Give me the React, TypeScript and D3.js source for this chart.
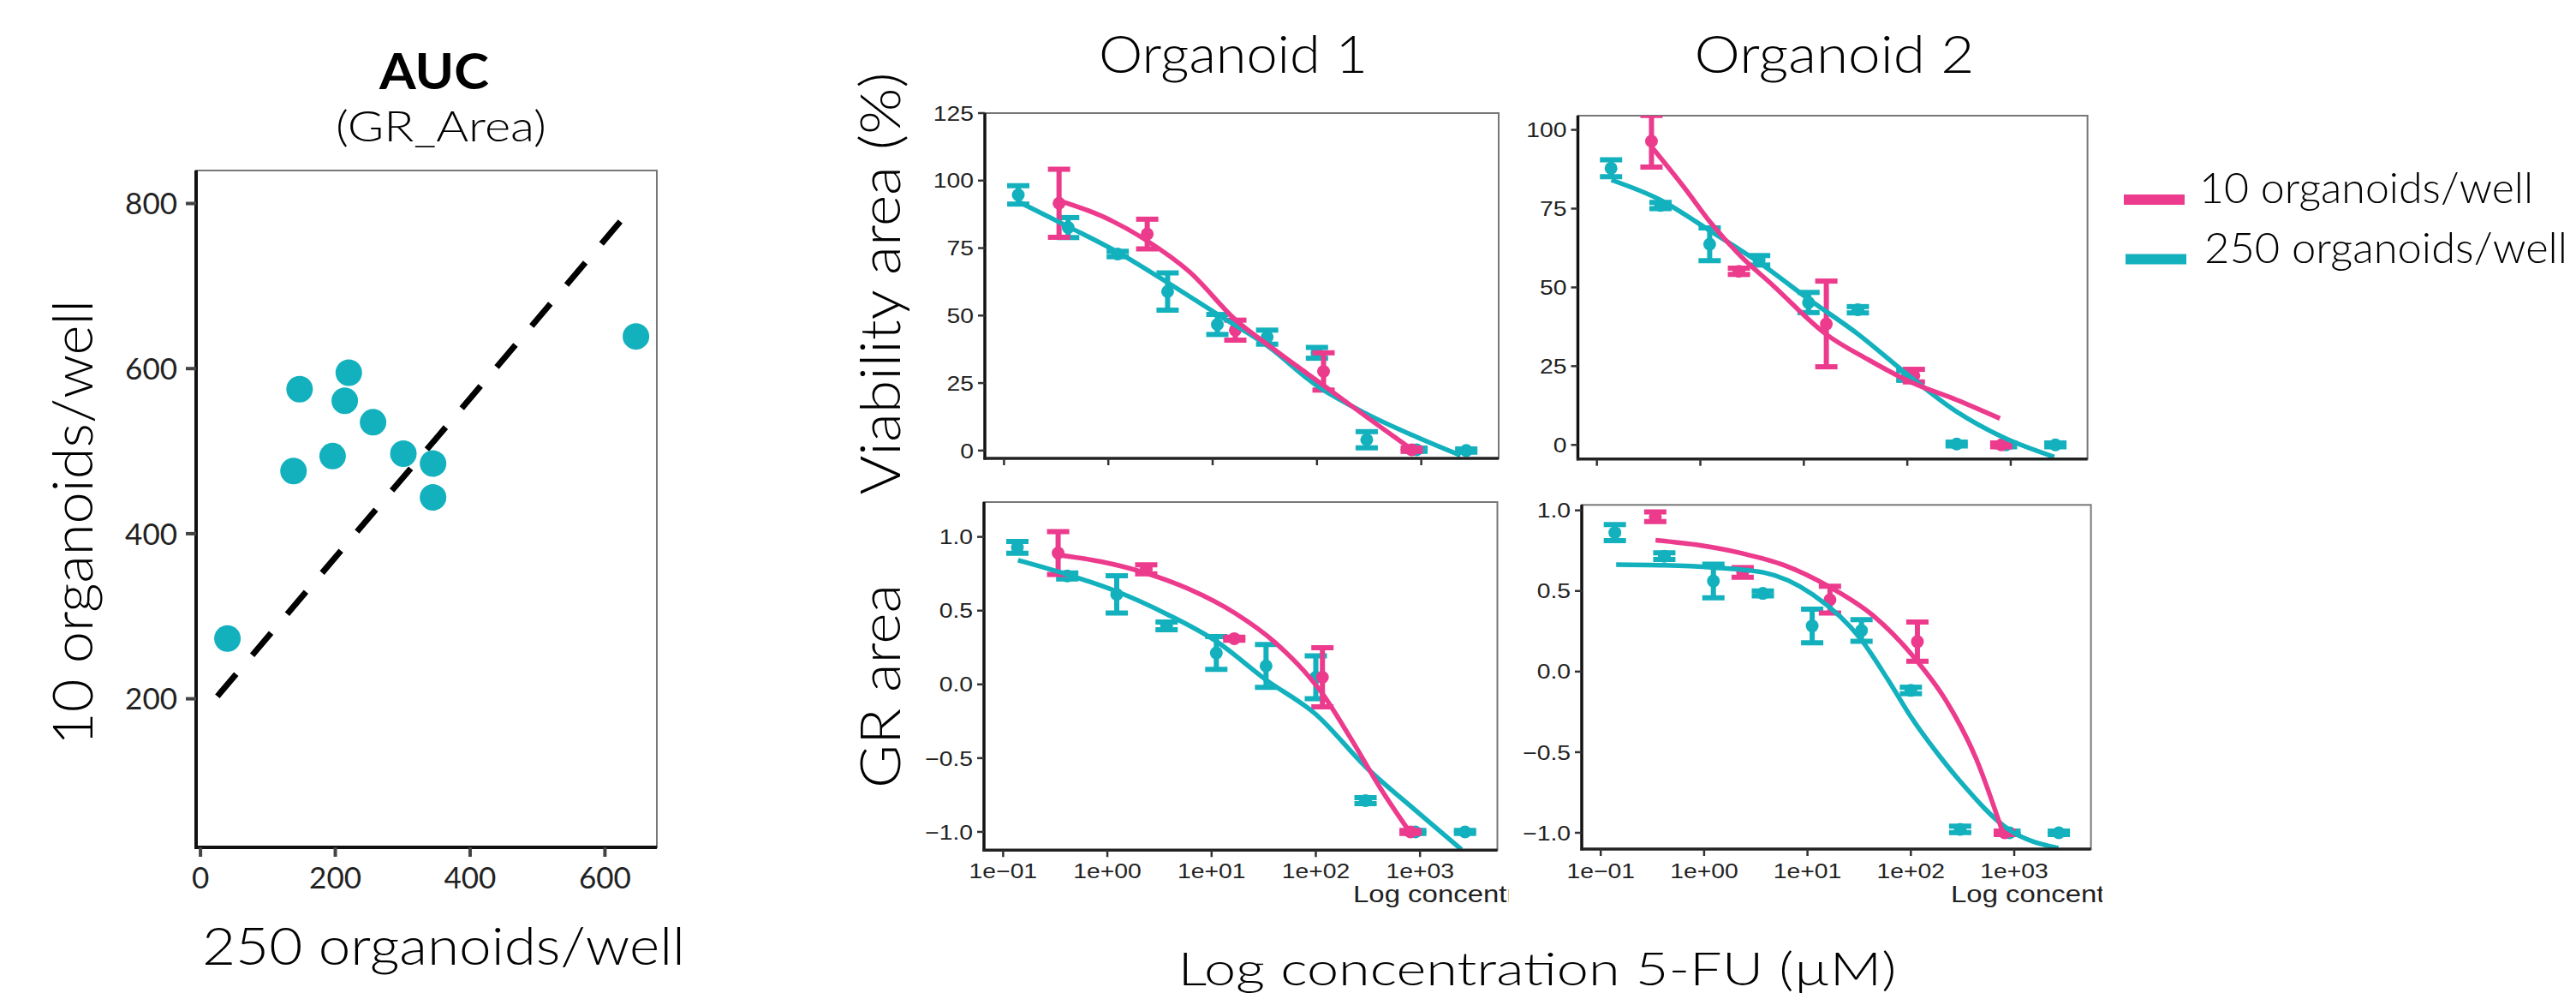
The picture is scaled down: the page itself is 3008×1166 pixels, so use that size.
import * as d3 from 'd3';
import { useRef, useEffect } from 'react';

const TEAL = '#13b1be';
const PINK = '#ec3b8d';
const GEO = 'Lato, "Open Sans", sans-serif';
const ARIAL = '"Liberation Sans", Arial, sans-serif';

// ---- AUC scatter (GR_Area) ----
const aucX = [40, 138, 147, 196, 220, 214, 256, 301, 345, 345, 646];
const aucY = [273, 476, 575, 494, 595, 561, 535, 497, 485, 444, 639];
const aucXTicks = [0, 200, 400, 600];
const aucYTicks = [200, 400, 600, 800];
const refLineX = [25, 635];
const refLineY = [203, 790];

// ---- dose response: concentrations in uM ----
const concTeal = [0.137, 0.412, 1.23, 3.7, 11.1, 33.3, 100, 300, 900, 2700];
const concPink = [0.337, 2.36, 16.5, 115.7, 810];
const logTicks = [0.1, 1, 10, 100, 1000];
const logTickLabels = ['1e\u221201', '1e+00', '1e+01', '1e+02', '1e+03'];

// Organoid 1 - viability area (%)
const via1Teal = [94.7, 82.6, 72.8, 58.9, 46.7, 42.0, 36.2, 4.0, 0.3, 0.0];
const via1TealErr = [3.4, 3.7, 1.0, 6.9, 3.7, 2.6, 2.0, 3.0, 0.6, 0.6];
const via1Pink = [91.6, 80.2, 44.6, 29.3, 0.3];
const via1PinkErr = [12.6, 5.5, 3.7, 6.9, 0.6];
const via1TealFitX = [0.139, 0.43, 1.28, 3.78, 11.2, 33.4, 100, 302, 891, 2380];
const via1TealFitY = [92.1, 82.6, 73.1, 62, 50.4, 38.8, 24, 13.5, 5.1, -1.8];
const via1PinkFitX = [0.337, 0.869, 2.33, 6.0, 16.7, 41.3, 117, 313, 807];
const via1PinkFitY = [92.6, 86.8, 77.8, 66.2, 48.3, 36.7, 24, 11.9, 0.5];

// Organoid 2 - viability area (%)
const via2Teal = [87.8, 76.0, 63.7, 58.6, 45.2, 42.9, 22.0, 0.3, 0.0, 0.0];
const via2TealErr = [2.7, 1.0, 5.2, 1.5, 3.2, 1.0, 1.5, 0.6, 0.6, 0.6];
const via2Pink = [96.4, 55.1, 38.4, 22.0, 0.0];
const via2PinkErr = [8.2, 1.0, 13.6, 2.0, 0.6];
const via2TealFitX = [0.138, 0.408, 1.26, 3.74, 11.3, 33.3, 99, 295, 832, 2630];
const via2TealFitY = [84.1, 77.8, 67.8, 57.8, 46.1, 35.2, 22.5, 10.7, 2.5, -3.8];
const via2PinkFitX = [0.338, 0.71, 1.26, 2.34, 5.04, 16.3, 42.3, 112, 300, 785];
const via2PinkFitY = [94.6, 81.4, 70.5, 60.6, 50.6, 35.2, 27, 19.7, 14.3, 8.4];

// Organoid 1 - GR area
const gr1Teal = [0.929, 0.735, 0.61, 0.397, 0.213, 0.125, 0.048, -0.788, -1.0, -1.0];
const gr1TealErr = [0.04, 0.02, 0.126, 0.026, 0.111, 0.145, 0.145, 0.02, 0.01, 0.01];
const gr1Pink = [0.89, 0.78, 0.31, 0.048, -1.0];
const gr1PinkErr = [0.145, 0.03, 0.01, 0.2, 0.01];
const gr1TealFitX = [0.139, 0.414, 1.24, 3.78, 11.2, 33.4, 100, 302, 891, 2500];
const gr1TealFitY = [0.842, 0.745, 0.629, 0.474, 0.29, 0.03, -0.203, -0.56, -0.85, -1.12];
const gr1PinkFitX = [0.337, 0.869, 2.33, 6.0, 16.7, 41.3, 112, 213, 419, 807];
const gr1PinkFitY = [0.877, 0.832, 0.755, 0.648, 0.484, 0.28, -0.049, -0.358, -0.707, -1.007];

// Organoid 2 - GR area
const gr2Teal = [0.862, 0.716, 0.562, 0.485, 0.283, 0.255, -0.117, -0.979, -1.0, -1.0];
const gr2TealErr = [0.05, 0.02, 0.104, 0.015, 0.104, 0.067, 0.02, 0.02, 0.01, 0.01];
const gr2Pink = [0.96, 0.615, 0.446, 0.186, -1.0];
const gr2PinkErr = [0.03, 0.03, 0.083, 0.122, 0.01];
const gr2TealFitX = [0.141, 0.415, 1.24, 3.75, 11.1, 33.1, 60, 100, 182, 299, 881, 2670];
const gr2TealFitY = [0.663, 0.659, 0.645, 0.615, 0.48, 0.198, -0.05, -0.28, -0.51, -0.68, -0.979, -1.095];
const gr2PinkFitX = [0.339, 0.918, 2.35, 6.0, 16.3, 42.8, 112, 216, 428, 776];
const gr2PinkFitY = [0.815, 0.783, 0.733, 0.659, 0.526, 0.349, 0.074, -0.174, -0.54, -1.0];

const legendLabels = ['10 organoids/well', '250 organoids/well'];

export default function App() {
    const ref = useRef(null);

    useEffect(() => {
        const svg = d3.select(ref.current);
        svg.selectAll('*').remove();

        // ---------- AUC scatter ----------
        const sx = d3.scaleLinear().domain([-6.5, 677]).range([229, 767]);
        const sy = d3.scaleLinear().domain([20, 840]).range([989, 199]);

        svg.append('rect')
            .attr('x', 229).attr('y', 199).attr('width', 538).attr('height', 790)
            .attr('fill', 'white').attr('stroke', '#777').attr('stroke-width', 2);

        svg.append('line')
            .attr('x1', sx(refLineX[0])).attr('y1', sy(refLineY[0]))
            .attr('x2', sx(refLineX[1])).attr('y2', sy(refLineY[1]))
            .attr('stroke', '#000').attr('stroke-width', 7)
            .attr('stroke-dasharray', '34 29');

        svg.selectAll('.auc-dot')
            .data(aucX.map((x, i) => ({ x, y: aucY[i] })))
            .enter().append('circle')
            .attr('cx', d => sx(d.x)).attr('cy', d => sy(d.y))
            .attr('r', 15.5).attr('fill', TEAL);

        // axis lines
        svg.append('line').attr('x1', 229).attr('x2', 229).attr('y1', 199).attr('y2', 991)
            .attr('stroke', '#111').attr('stroke-width', 4);
        svg.append('line').attr('x1', 227).attr('x2', 767).attr('y1', 989).attr('y2', 989)
            .attr('stroke', '#111').attr('stroke-width', 4);

        aucYTicks.forEach(t => {
            svg.append('line').attr('x1', 217).attr('x2', 229).attr('y1', sy(t)).attr('y2', sy(t))
                .attr('stroke', '#444').attr('stroke-width', 4);
            svg.append('text').attr('x', 207).attr('y', sy(t)).attr('dy', '0.36em')
                .attr('text-anchor', 'end').style('font-family', GEO).style('font-size', '35px')
                .attr('fill', '#222').text(t);
        });
        aucXTicks.forEach(t => {
            svg.append('line').attr('x1', sx(t)).attr('x2', sx(t)).attr('y1', 989).attr('y2', 1000)
                .attr('stroke', '#444').attr('stroke-width', 4);
            svg.append('text').attr('x', sx(t)).attr('y', 1037)
                .attr('text-anchor', 'middle').style('font-family', GEO).style('font-size', '35px')
                .attr('fill', '#222').text(t);
        });

        svg.append('text').attr('x', 507).attr('y', 104).attr('text-anchor', 'middle')
            .style('font-family', GEO).style('font-size', '57px').style('font-weight', 700)
            .attr('textLength', 128).attr('lengthAdjust', 'spacingAndGlyphs').text('AUC');
        svg.append('text').attr('x', 515).attr('y', 165).attr('text-anchor', 'middle')
            .style('font-family', GEO).style('font-size', '50px').style('font-weight', 300)
            .attr('textLength', 246).attr('lengthAdjust', 'spacingAndGlyphs').text('(GR_Area)');
        svg.append('text').attr('transform', 'translate(108,610) rotate(-90)')
            .attr('text-anchor', 'middle').style('font-family', GEO).style('font-size', '66px').style('font-weight', 300)
            .attr('textLength', 520).attr('lengthAdjust', 'spacingAndGlyphs').text('10 organoids/well');
        svg.append('text').attr('x', 518).attr('y', 1126).attr('text-anchor', 'middle')
            .style('font-family', GEO).style('font-size', '62px').style('font-weight', 300)
            .attr('textLength', 564).attr('lengthAdjust', 'spacingAndGlyphs').text('250 organoids/well');

        // ---------- dose response panels ----------
        const panels = [
            {
                box: [1150, 1750, 132, 535], yDomain: [-2.9, 125], yTicks: [0, 25, 50, 75, 100, 125],
                fmt: d3.format('d'), xLabels: false,
                teal: via1Teal, tealErr: via1TealErr, pink: via1Pink, pinkErr: via1PinkErr,
                tfx: via1TealFitX, tfy: via1TealFitY, pfx: via1PinkFitX, pfy: via1PinkFitY
            },
            {
                box: [1842.5, 2437.6, 135, 535.7], yDomain: [-4.46, 104.5], yTicks: [0, 25, 50, 75, 100],
                fmt: d3.format('d'), xLabels: false,
                teal: via2Teal, tealErr: via2TealErr, pink: via2Pink, pinkErr: via2PinkErr,
                tfx: via2TealFitX, tfy: via2TealFitY, pfx: via2PinkFitX, pfy: via2PinkFitY
            },
            {
                box: [1149, 1748.5, 586, 992.3], yDomain: [-1.124, 1.236], yTicks: [-1, -0.5, 0, 0.5, 1],
                fmt: d3.format('.1f'), xLabels: true, clipRight: 1762,
                teal: gr1Teal, tealErr: gr1TealErr, pink: gr1Pink, pinkErr: gr1PinkErr,
                tfx: gr1TealFitX, tfy: gr1TealFitY, pfx: gr1PinkFitX, pfy: gr1PinkFitY
            },
            {
                box: [1847, 2441.6, 589.3, 991], yDomain: [-1.101, 1.034], yTicks: [-1, -0.5, 0, 0.5, 1],
                fmt: d3.format('.1f'), xLabels: true, clipRight: 2455,
                teal: gr2Teal, tealErr: gr2TealErr, pink: gr2Pink, pinkErr: gr2PinkErr,
                tfx: gr2TealFitX, tfy: gr2TealFitY, pfx: gr2PinkFitX, pfy: gr2PinkFitY
            }
        ];

        const defs = svg.append('defs');

        panels.forEach((p, pi) => {
            const [x0, x1, y0, y1] = p.box;
            const x = d3.scaleLog().domain([0.0655, 5520]).range([x0, x1]);
            const y = d3.scaleLinear().domain(p.yDomain).range([y1, y0]);
            const g = svg.append('g');

            g.append('rect').attr('x', x0).attr('y', y0).attr('width', x1 - x0).attr('height', y1 - y0)
                .attr('fill', 'white').attr('stroke', '#777').attr('stroke-width', 2);

            const clipId = `panel-clip-${pi}`;
            defs.append('clipPath').attr('id', clipId).append('rect')
                .attr('x', x0).attr('y', y0).attr('width', x1 - x0).attr('height', y1 - y0);
            const plot = g.append('g').attr('clip-path', `url(#${clipId})`);

            const drawSeries = (conc, vals, errs, color) => {
                const pts = conc.map((c, i) => ({ c, v: vals[i], e: errs[i] }));
                pts.forEach(d => {
                    const cx = x(d.c);
                    const top = y(d.v + d.e);
                    const bot = y(d.v - d.e);
                    plot.append('line').attr('x1', cx).attr('x2', cx).attr('y1', top).attr('y2', bot)
                        .attr('stroke', color).attr('stroke-width', 6);
                    [top, bot].forEach(yy => {
                        plot.append('line').attr('x1', cx - 13).attr('x2', cx + 13).attr('y1', yy).attr('y2', yy)
                            .attr('stroke', color).attr('stroke-width', 6);
                    });
                    plot.append('circle').attr('cx', cx).attr('cy', y(d.v)).attr('r', 7.5).attr('fill', color);
                });
            };
            drawSeries(concTeal, p.teal, p.tealErr, TEAL);
            drawSeries(concPink, p.pink, p.pinkErr, PINK);

            const line = d3.line().x(d => x(d[0])).y(d => y(d[1])).curve(d3.curveMonotoneX);
            plot.append('path').attr('d', line(p.tfx.map((c, i) => [c, p.tfy[i]])))
                .attr('fill', 'none').attr('stroke', TEAL).attr('stroke-width', 5.5);
            plot.append('path').attr('d', line(p.pfx.map((c, i) => [c, p.pfy[i]])))
                .attr('fill', 'none').attr('stroke', PINK).attr('stroke-width', 5.5);

            // axis lines (left / bottom)
            g.append('line').attr('x1', x0).attr('x2', x0).attr('y1', y0).attr('y2', y1 + 1.5)
                .attr('stroke', '#111').attr('stroke-width', 3.5);
            g.append('line').attr('x1', x0 - 1.5).attr('x2', x1).attr('y1', y1).attr('y2', y1)
                .attr('stroke', '#222').attr('stroke-width', 3.5);

            p.yTicks.forEach(t => {
                g.append('line').attr('x1', x0 - 8).attr('x2', x0).attr('y1', y(t)).attr('y2', y(t))
                    .attr('stroke', '#333').attr('stroke-width', 2.5);
                g.append('text').attr('transform', `translate(${x0 - 13},${y(t)}) scale(1.18,1)`)
                    .attr('dy', '0.36em').attr('text-anchor', 'end')
                    .style('font-family', ARIAL).style('font-size', '24px').attr('fill', '#222')
                    .text(p.fmt(t));
            });
            logTicks.forEach((t, i) => {
                g.append('line').attr('x1', x(t)).attr('x2', x(t)).attr('y1', y1).attr('y2', y1 + 8)
                    .attr('stroke', '#333').attr('stroke-width', 2.5);
                if (p.xLabels) {
                    g.append('text').attr('transform', `translate(${x(t)},1025) scale(1.18,1)`)
                        .attr('text-anchor', 'middle')
                        .style('font-family', ARIAL).style('font-size', '24px').attr('fill', '#222')
                        .text(logTickLabels[i]);
                }
            });

            if (p.xLabels) {
                const labId = `lab-clip-${pi}`;
                defs.append('clipPath').attr('id', labId).append('rect')
                    .attr('x', x1 - 200).attr('y', 1020).attr('width', p.clipRight - (x1 - 200)).attr('height', 60);
                g.append('g').attr('clip-path', `url(#${labId})`)
                    .append('text').attr('transform', `translate(${x0 + 431},1053) scale(1.22,1)`)
                    .style('font-family', ARIAL).style('font-size', '27px').attr('fill', '#222')
                    .text('Log concentration (\u00b5M)');
            }
        });

        // column titles and shared labels
        svg.append('text').attr('x', 1440).attr('y', 85).attr('text-anchor', 'middle')
            .style('font-family', GEO).style('font-size', '62px').style('font-weight', 300)
            .attr('textLength', 314).attr('lengthAdjust', 'spacingAndGlyphs').text('Organoid 1');
        svg.append('text').attr('x', 2142).attr('y', 85).attr('text-anchor', 'middle')
            .style('font-family', GEO).style('font-size', '62px').style('font-weight', 300)
            .attr('textLength', 327).attr('lengthAdjust', 'spacingAndGlyphs').text('Organoid 2');
        svg.append('text').attr('transform', 'translate(1051,331) rotate(-90)')
            .attr('text-anchor', 'middle').style('font-family', GEO).style('font-size', '65px').style('font-weight', 300)
            .attr('textLength', 493).attr('lengthAdjust', 'spacingAndGlyphs').text('Viability area (%)');
        svg.append('text').attr('transform', 'translate(1051,801) rotate(-90)')
            .attr('text-anchor', 'middle').style('font-family', GEO).style('font-size', '65px').style('font-weight', 300)
            .attr('textLength', 238).attr('lengthAdjust', 'spacingAndGlyphs').text('GR area');
        svg.append('text').attr('x', 1795).attr('y', 1150).attr('text-anchor', 'middle')
            .style('font-family', GEO).style('font-size', '53px').style('font-weight', 300)
            .attr('textLength', 839).attr('lengthAdjust', 'spacingAndGlyphs').text('Log concentration 5-FU (\u00b5M)');

        // legend
        const legend = [
            { color: PINK, label: legendLabels[0], x: 2480, y: 233, tx: 2568, ty: 237, len: 390 },
            { color: TEAL, label: legendLabels[1], x: 2482, y: 302.5, tx: 2574, ty: 307, len: 424 }
        ];
        legend.forEach(l => {
            svg.append('rect').attr('x', l.x).attr('y', l.y - 6).attr('width', 71).attr('height', 12)
                .attr('fill', l.color);
            svg.append('text').attr('x', l.tx).attr('y', l.ty)
                .style('font-family', GEO).style('font-size', '49px').style('font-weight', 300)
                .attr('textLength', l.len).attr('lengthAdjust', 'spacingAndGlyphs').text(l.label);
        });
    }, []);

    return (
        <svg ref={ref} width={3008} height={1166}
            style={{ position: 'absolute', left: 0, top: 0, background: 'white', display: 'block' }}>
        </svg>
    );
}
